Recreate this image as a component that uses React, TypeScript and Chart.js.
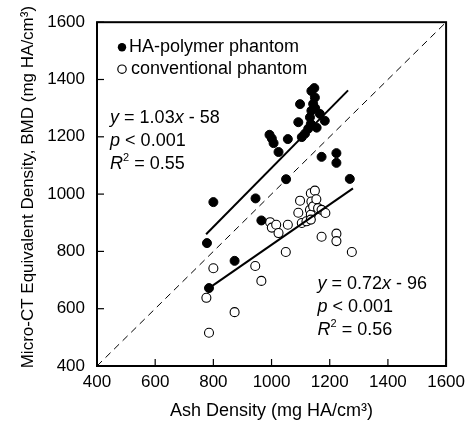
import React, { useEffect, useRef } from 'react';
import { Chart, registerables } from 'chart.js';

Chart.register(...registerables);

const FAMILY = "'Liberation Sans', Arial, Helvetica, sans-serif";

// HA-polymer phantom (filled)
const haX = [785, 778, 800, 873, 945, 965, 1050, 993, 1001, 1007, 1024, 1056, 1092, 1098, 1104, 1115, 1126, 1135, 1132, 1137, 1143, 1149, 1137, 1147, 1166, 1183, 1172, 1223, 1223, 1269, 1150, 1155];
const haY = [672, 829, 972, 767, 985, 908, 1052, 1207, 1194, 1178, 1147, 1192, 1251, 1314, 1199, 1211, 1228, 1245, 1268, 1291, 1315, 1337, 1360, 1370, 1280, 1256, 1130, 1143, 1109, 1053, 1300, 1232];

// conventional phantom (open)
const convX = [776, 785, 800, 873, 944, 965, 995, 1001, 1016, 1024, 1049, 1056, 1092, 1098, 1104, 1120, 1132, 1135, 1135, 1135, 1137, 1143, 1149, 1154, 1160, 1172, 1185, 1172, 1223, 1223, 1276];
const convY = [638, 516, 741, 588, 749, 697, 902, 883, 893, 864, 798, 893, 935, 977, 899, 905, 945, 928, 911, 1003, 974, 957, 1012, 982, 951, 945, 934, 851, 862, 836, 798];

// fitted lines (as drawn)
const haFitX = [775, 1263];
const haFitY = [860, 1362];
const convFitX = [785, 1280];
const convFitY = [672, 1020];

// identity line
const identX = [400, 1600];
const identY = [400, 1600];

const xTicks = [400, 600, 800, 1000, 1200, 1400, 1600];
const yTicks = [400, 600, 800, 1000, 1200, 1400, 1600];

const xTitle = 'Ash Density (mg HA/cm³)';
const yTitle = 'Micro-CT Equivalent Density, BMD (mg HA/cm³)';
const legendLabels = ['HA-polymer phantom', 'conventional phantom'];

type Part = [string, 'n' | 'i' | 'sup'];
const leftNote: Part[][] = [
  [['y', 'i'], [' = 1.03', 'n'], ['x', 'i'], [' - 58', 'n']],
  [['p', 'i'], [' < 0.001', 'n']],
  [['R', 'i'], ['2', 'sup'], [' = 0.55', 'n']],
];
const rightNote: Part[][] = [
  [['y', 'i'], [' = 0.72', 'n'], ['x', 'i'], [' - 96', 'n']],
  [['p', 'i'], [' < 0.001', 'n']],
  [['R', 'i'], ['2', 'sup'], [' = 0.56', 'n']],
];
const leftNoteAt = { x: 445, y: 1267 };
const rightNoteAt = { x: 1158, y: 687 };

const pts = (xs: number[], ys: number[]) => xs.map((x, i) => ({ x, y: ys[i] }));

function drawRich(ctx: CanvasRenderingContext2D, x: number, y: number, parts: Part[], size: number) {
  let cx = x;
  for (const [t, s] of parts) {
    const fs = s === 'sup' ? Math.round(size * 0.62) : size;
    ctx.font = `${s === 'i' ? 'italic ' : ''}${fs}px ${FAMILY}`;
    const dy = s === 'sup' ? -size * 0.32 : 0;
    ctx.fillText(t, cx, y + dy);
    cx += ctx.measureText(t).width;
  }
}

const decorPlugin = {
  id: 'decor',
  afterDraw(chart: any) {
    const { ctx, chartArea: a, scales } = chart;
    const xs = scales.x;
    const ys = scales.y;
    ctx.save();
    ctx.strokeStyle = '#000';
    ctx.fillStyle = '#000';
    // inward ticks
    ctx.lineWidth = 1.2;
    const tl = 7;
    xTicks.forEach((v) => {
      const px = xs.getPixelForValue(v);
      ctx.beginPath();
      ctx.moveTo(px, a.bottom);
      ctx.lineTo(px, a.bottom - tl);
      ctx.stroke();
    });
    yTicks.forEach((v) => {
      const py = ys.getPixelForValue(v);
      ctx.beginPath();
      ctx.moveTo(a.left, py);
      ctx.lineTo(a.left + tl, py);
      ctx.stroke();
    });
    // frame
    ctx.lineWidth = 2;
    ctx.strokeRect(a.left, a.top, a.right - a.left, a.bottom - a.top);

    // y axis title
    ctx.save();
    ctx.translate(28, (a.top + a.bottom) / 2 - 7);
    ctx.rotate(-Math.PI / 2);
    ctx.textAlign = 'center';
    ctx.textBaseline = 'middle';
    ctx.font = `17px ${FAMILY}`;
    ctx.fillText(yTitle, 0, 0);
    ctx.restore();

    // legend
    const lx = a.left + 25;
    const ly0 = a.top + 25;
    const gap = 22;
    ctx.textBaseline = 'middle';
    ctx.textAlign = 'left';
    legendLabels.forEach((lab, i) => {
      const cy = ly0 + i * gap;
      ctx.beginPath();
      ctx.arc(lx, cy, 4.2, 0, Math.PI * 2);
      if (i === 0) {
        ctx.fillStyle = '#000';
        ctx.fill();
      } else {
        ctx.fillStyle = '#fff';
        ctx.fill();
        ctx.lineWidth = 1.2;
        ctx.stroke();
      }
      ctx.fillStyle = '#000';
      ctx.font = `18px ${FAMILY}`;
      ctx.fillText(lab, lx + (i === 0 ? 7 : 9), cy);
    });

    // annotations
    const size = 18;
    const lh = 23;
    const lxp = xs.getPixelForValue(leftNoteAt.x);
    const lyp = ys.getPixelForValue(leftNoteAt.y);
    leftNote.forEach((p, i) => drawRich(ctx, lxp, lyp + i * lh, p, size));
    const rxp = xs.getPixelForValue(rightNoteAt.x);
    const ryp = ys.getPixelForValue(rightNoteAt.y);
    rightNote.forEach((p, i) => drawRich(ctx, rxp, ryp + i * lh, p, size));
    ctx.restore();
  },
};

export default function App() {
  const ref = useRef<HTMLCanvasElement | null>(null);
  useEffect(() => {
    if (!ref.current) return;
    const tickFont = { family: FAMILY, size: 17 };
    const titleFont = { family: FAMILY, size: 18 };
    const chart = new Chart(ref.current, {
      type: 'scatter',
      data: {
        datasets: [
          {
            label: 'identity',
            data: pts(identX, identY),
            showLine: true,
            borderColor: '#000',
            borderWidth: 1,
            borderDash: [7, 5],
            pointRadius: 0,
            order: 5,
          },
          {
            label: 'HA fit',
            data: pts(haFitX, haFitY),
            showLine: true,
            borderColor: '#000',
            borderWidth: 2,
            pointRadius: 0,
            order: 1,
          },
          {
            label: 'conv fit',
            data: pts(convFitX, convFitY),
            showLine: true,
            borderColor: '#000',
            borderWidth: 2,
            pointRadius: 0,
            order: 1,
          },
          {
            label: legendLabels[1],
            data: pts(convX, convY),
            backgroundColor: '#fff',
            borderColor: '#000',
            borderWidth: 1.1,
            pointRadius: 4.5,
            order: 3,
          },
          {
            label: legendLabels[0],
            data: pts(haX, haY),
            backgroundColor: '#000',
            borderColor: '#000',
            borderWidth: 1,
            pointRadius: 4.5,
            order: 2,
          },
        ],
      },
      options: {
        responsive: false,
        animation: false,
        devicePixelRatio: 1,
        layout: { padding: { left: 0, top: 19, right: 22, bottom: 0 } },
        plugins: { legend: { display: false }, tooltip: { enabled: false } },
        scales: {
          x: {
            type: 'linear',
            min: 400,
            max: 1600,
            afterBuildTicks: (s: any) => {
              s.ticks = xTicks.map((value) => ({ value }));
            },
            afterFit: (s: any) => {
              s.height = 58;
            },
            grid: { display: false, drawTicks: false },
            border: { display: false },
            ticks: {
              font: tickFont,
              color: '#000',
              padding: 6,
              maxRotation: 0,
              autoSkip: false,
              callback: (v: any) => String(v),
            },
            title: { display: true, text: xTitle, font: titleFont, color: '#000', padding: { top: 0, bottom: 2 } },
          },
          y: {
            type: 'linear',
            min: 400,
            max: 1600,
            afterBuildTicks: (s: any) => {
              s.ticks = yTicks.map((value) => ({ value }));
            },
            afterFit: (s: any) => {
              s.width = 97;
            },
            grid: { display: false, drawTicks: false },
            border: { display: false },
            ticks: {
              font: tickFont,
              color: '#000',
              padding: 12,
              autoSkip: false,
              callback: (v: any) => String(v),
            },
            title: { display: false },
          },
        },
      },
      plugins: [decorPlugin],
    } as any);
    return () => chart.destroy();
  }, []);
  return (
    <canvas
      ref={ref}
      width={471}
      height={424}
      style={{ position: 'absolute', left: 0, top: 0, width: 471, height: 424, background: '#fff' }}
    />
  );
}
